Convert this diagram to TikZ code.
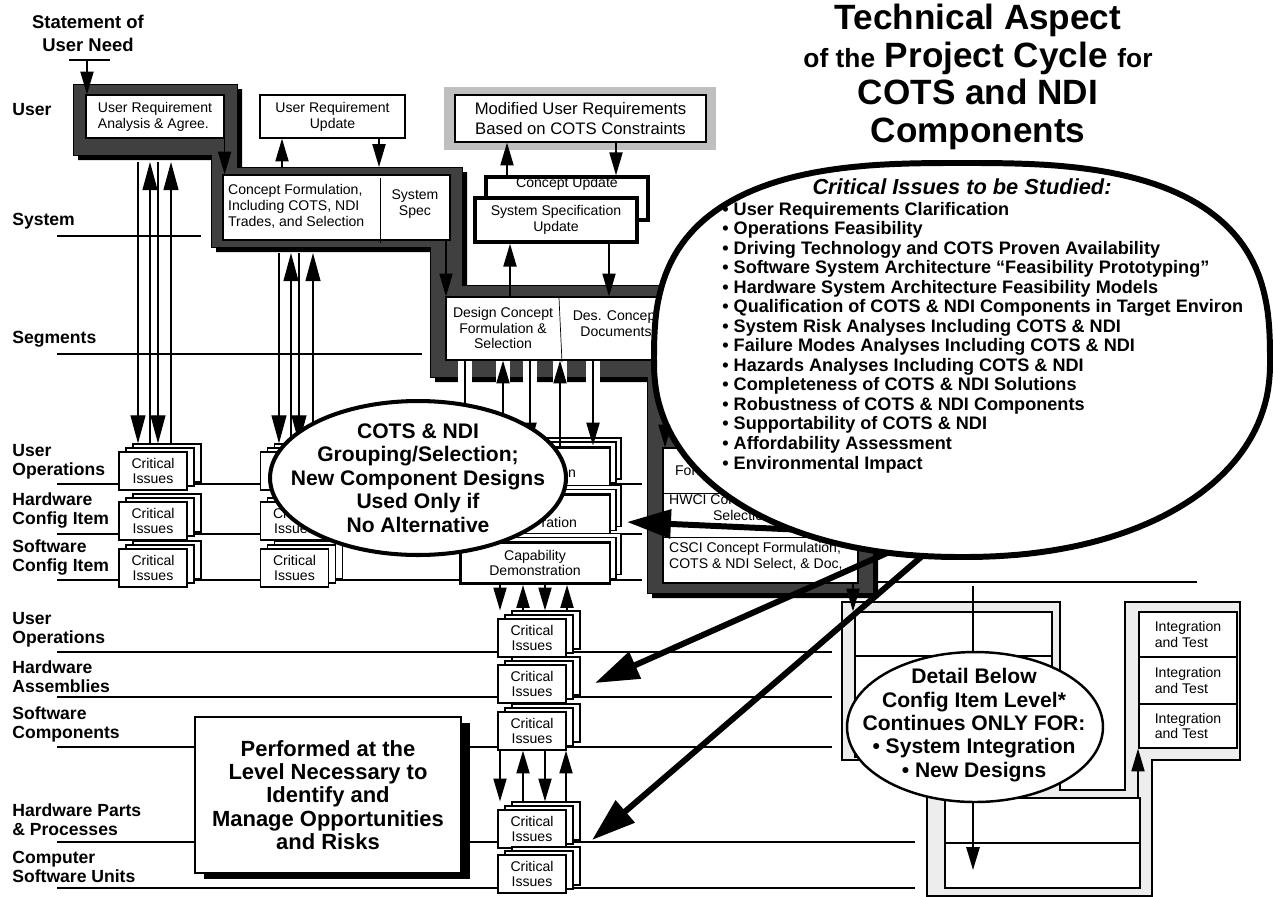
\documentclass[tikz,border=0pt]{standalone}
\usepackage{fontspec}
\setmainfont{Liberation Sans}
\usetikzlibrary{arrows.meta,positioning,shapes.geometric}

\definecolor{bandgray}{gray}{0.25}
\definecolor{palegray}{gray}{0.93}
\definecolor{framegray}{gray}{0.75}

\tikzset{
  level/.style={font=\fontsize{10}{11}\selectfont\bfseries, align=left, anchor=west, inner sep=0pt},
  levelline/.style={line width=0.9pt},
  boxtext/.style={font=\fontsize{8}{9}\selectfont, align=center, inner sep=1pt},
  box/.style 2 args={draw, fill=white, line width=0.7pt, inner sep=0pt,
    minimum width=#1*0.2mm, minimum height=#2*0.2mm, boxtext},
  crit/.style={box={68}{38}},
  midbox/.style={box={150}{41}},
  dropshadow/.style={preaction={fill=black, transform canvas={xshift=1mm, yshift=-1mm}}},
  arr/.style={-{Triangle[length=13pt, width=7.5pt]}, line width=0.8pt},
  longarr/.style={-{Triangle[length=16pt, width=8.5pt]}, line width=0.8pt},
  fatarr/.style={-{Triangle[length=25pt, width=16pt]}, line width=3.4pt},
  bubble/.style={ellipse, draw, fill=white, inner sep=0pt},
  bubbletext/.style={font=\fontsize{12}{13.3}\selectfont\bfseries, align=center, inner sep=0pt},
}

\begin{document}
\begin{tikzpicture}[x=0.02cm, y=-0.02cm]
\useasboundingbox (0,0) rectangle (1273,896);

% level lines
\foreach \y/\xe in {236/201, 354/422, 484/642, 534/642, 580/642, 652/832, 697/832, 747/832, 842/915, 888/915}
  \draw[levelline] (57,\y) -- (\xe,\y);
\draw[line width=1.1pt] (870,582) -- (1197,582);

% level names
\node[level, anchor=center, align=center, font=\fontsize{10.5}{13}\selectfont\bfseries] (need) at (88,33) {Statement of\\User Need};
\node[level] (lvuser) at (12,110) {User};
\node[level] (lvsys) at (12,221) {System};
\node[level] (lvseg) at (12,339) {Segments};
\node[level] (lvuo) at (12,462) {User\\Operations};
\node[level] (lvhci) at (12,510.5) {Hardware\\Config Item};
\node[level] (lvsci) at (12,557.5) {Software\\Config Item};
\node[level] (lvuo2) at (12,630) {User\\Operations};
\node[level] (lvha) at (12,677) {Hardware\\Assemblies};
\node[level] (lvsc) at (12,724.5) {Software\\Components};
\node[level] (lvhpp) at (12,820) {Hardware Parts\\\& Processes};
\node[level] (lvcsu) at (12,867) {Computer\\Software Units};

\coordinate (needbar) at (87,60);
\draw[levelline] (69,60) -- (110,60);

% dark staircase
\path[fill=bandgray, draw=black, line width=0.4pt, dropshadow]
  (73,84) -- (237,84) -- (237,167) -- (462,167) -- (462,285) -- (690,285) -- (690,377)
  -- (663,377) -- (663,436) -- (873,436) -- (873,593) -- (647,593) -- (647,377)
  -- (430,377) -- (430,247) -- (211,247) -- (211,155) -- (73,155) -- cycle;
\foreach \x in {465,503,530,560,593}
  \fill[white] (\x-7,361) rectangle (\x+7,383);

\node[box={138}{43}, align=left] (ura) at (155,116.5) {User Requirement\\Analysis \& Agree.};
\node[box={227}{65}] (cf) at (336.5,207.5) {};
\draw (380,178) -- (380,243);
\node[boxtext, align=left, anchor=west] (cftext) at (226,206) {Concept Formulation,\\Including COTS, NDI\\Trades, and Selection};
\node[boxtext] (spec) at (415,204) {System\\Spec};
\node[box={230}{63}] (dc) at (561,328.5) {};
\draw (559,298) -- (562,362);
\node[boxtext] (dctext) at (503,328) {Design Concept\\Formulation \&\\Selection};
\node[boxtext] (docs) at (616,324) {Des. Concept\\Documents};
\node[box={195}{135}] (hwsw) at (760.5,515.5) {};
\draw (hwsw.west |- 0,493) -- (hwsw.east |- 0,493);
\draw (hwsw.west |- 0,537) -- (hwsw.east |- 0,537);
\node[boxtext, anchor=west] at (673,471) {For};
\node[boxtext, anchor=west] at (667,501) {HWCI Concept};
\node[boxtext, anchor=west] at (711,515) {Selection};
\node[boxtext, anchor=west, align=left] at (667,556) {CSCI Concept Formulation,\\COTS \& NDI Select, \& Doc,};

% update boxes
\fill[framegray] (444,87) rectangle (716,150);
\node[box={251}{47}, font=\fontsize{9.5}{11.3}\selectfont] (mur) at (580.5,118.5) {Modified User Requirements\\Based on COTS Constraints};
\node[box={145}{43}] (uru) at (332.5,116.5) {User Requirement\\Update};
\node[box={162}{43}, line width=2pt] (cu) at (567,198.5) {};
\node[boxtext, anchor=north] at (cu.north) {Concept Update};
\node[box={162}{44}, line width=2pt] (ssu) at (556,220) {System Specification\\Update};

% critical issues stacks
\foreach \n/\x/\y in {c11/153/471, c12/153/521, c13/153/568, c21/294.5/471, c22/294.5/521, c23/294.5/568,
                      c41/532/638, c42/532/684, c43/532/731, c44/532/829, c45/532/874}{
  \node[crit] (back\n) at (\x,\y) [xshift=2.8mm, yshift=1.6mm] {};
  \node[crit] at (\x,\y) [xshift=1.4mm, yshift=0.8mm] {};
  \node[crit] (\n) at (\x,\y) {Critical\\Issues};
}
\foreach \n/\y in {m1/467.5, m2/515, m3/563}{
  \node[midbox] (back\n) at (535,\y) [xshift=2.2mm, yshift=1.8mm] {};
  \node[midbox] at (535,\y) [xshift=1.2mm, yshift=1mm] {};
  \node[midbox, line width=1.7pt] (\n) at (535,\y) {};
}
\node[boxtext, anchor=east] at (578,474) {on};
\node[boxtext, anchor=east] at (579,522) {ration};
\node[boxtext] at (m3) {Capability\\Demonstration};

% light staircase
\filldraw[fill=palegray, line width=0.7pt] (842,602) -- (1060,602) -- (1060,790) -- (1125,790) -- (1125,602)
  -- (1240,602) -- (1240,760) -- (1152,760) -- (1152,896) -- (927,896) -- (927,760) -- (842,760) -- cycle;
\node[box={197}{145}] (ltop) at (953.5,684.5) {};
\draw[levelline] (ltop.west |- 0,656) -- (ltop.east |- 0,656);
\node[box={195}{90}] (lbot) at (1042.5,843) {};
\draw[levelline] (lbot.west) -- (lbot.east);
\foreach \n/\y/\h in {it1/634.5/45, it2/680.5/47, it3/726/44}
  \node[box={98}{\h}, align=left] (\n) at (1188,\y) {Integration\\and Test};

% connectors
\coordinate (bandtop) at (0,167);
\coordinate (uraband) at (0,162);
\coordinate (cfband) at (0,253);
\draw[arr] (needbar) -- (needbar |- ura.north);
\draw[arr] (ura.south east) -- (ura.south east |- cf.north);
\draw[arr] (282,0 |- bandtop) -- (282,0 |- uru.south);
\draw[arr] (379,0 |- uru.south) -- (379,0 |- bandtop);
\draw[arr] (cf.south -| 446,0) -- (446,0 |- dc.north);
\draw[arr] (507,0 |- cu.north) -- (507,0 |- mur.south);
\draw[arr] (616,0 |- mur.south) -- (616,0 |- cu.north);
\draw[arr] (510,0 |- dc.north) -- (510,0 |- ssu.south);
\draw[arr] (609,0 |- ssu.south) -- (609,0 |- dc.north);
\draw[arr] (665,0 |- dc.south) -- (665,0 |- hwsw.north);
\draw[arr] (853,0 |- hwsw.south) -- (853,0 |- ltop.north);

\foreach \x in {138,158} \draw[longarr] (\x,0 |- uraband) -- (\x,0 |- backc11.north);
\foreach \x in {150,171} \draw[longarr] (\x,0 |- backc11.north) -- (\x,0 |- uraband);
\foreach \x in {279,299} \draw[longarr] (\x,0 |- cfband) -- (\x,0 |- backc21.north);
\foreach \x in {291,313} \draw[longarr] (\x,0 |- backc21.north) -- (\x,0 |- cfband);
\foreach \x in {465,530,593} \draw[arr] (\x,0 |- dc.south) -- (\x,0 |- m1.north);
\foreach \x in {503,560} \draw[arr] (\x,0 |- m1.north) -- (\x,0 |- dc.south);
\foreach \x in {500,545} \draw[arr] (\x,0 |- m3.south) -- (\x,0 |- backc41.north);
\foreach \x in {523,567} \draw[arr] (\x,0 |- backc41.north) -- (\x,0 |- m3.south);
\foreach \x in {500,545} \draw[arr] (\x,0 |- c43.south) -- (\x,0 |- backc44.north);
\foreach \x in {523,566} \draw[arr] (\x,0 |- backc44.north) -- (\x,0 |- c43.south);

\coordinate (cidrop) at (973,586);
\coordinate (ciland) at (973,870);
\draw[arr, line width=1.2pt] (cidrop) -- (ciland);
\draw[arr] (1138,0 |- lbot.north) -- (1138,0 |- it3.south);

% fat arrows out of the issues bubble
\coordinate (src1) at (850,532); \coordinate (hit1) at (627,522);
\coordinate (src2) at (905,545); \coordinate (hit2) at (595,683);
\coordinate (src3) at (935,545); \coordinate (hit3) at (592,840);
\foreach \i in {1,2,3} \draw[fatarr] (src\i) -- (hit\i);

% bubbles
\coordinate (studyell) at (962,363);
\draw[line width=3.4pt, fill=white]
  plot[domain=180.5:359.5, samples=90, variable=\t]
    ({962+308*ifthenelse(cos(\t)<0,-1,1)*abs(cos(\t))^(0.714)}, {363-200*abs(sin(\t))^(0.714)})
  -- plot[domain=0.5:179.5, samples=90, variable=\t]
    ({962+308*ifthenelse(cos(\t)<0,-1,1)*abs(cos(\t))^(0.93)}, {363+194*abs(sin(\t))^(0.93)})
  -- cycle;
\node[font=\fontsize{12.4}{14}\selectfont\bfseries\itshape] (studyhead) at (962,187) {Critical Issues to be Studied:};
\node[font=\fontsize{10.3}{11.1}\selectfont\bfseries, align=left, anchor=north west, inner sep=0pt] (studylist) at (722,202)
  {• User Requirements Clarification\\
   • Operations Feasibility\\
   • Driving Technology and COTS Proven Availability\\
   • Software System Architecture “Feasibility Prototyping”\\
   • Hardware System Architecture Feasibility Models\\
   • Qualification of COTS \& NDI Components in Target Environ\\
   • System Risk Analyses Including COTS \& NDI\\
   • Failure Modes Analyses Including COTS \& NDI\\
   • Hazards Analyses Including COTS \& NDI\\
   • Completeness of COTS \& NDI Solutions\\
   • Robustness of COTS \& NDI Components\\
   • Supportability of COTS \& NDI\\
   • Affordability Assessment\\
   • Environmental Impact};

\node[bubble, line width=2.3pt, minimum width=296*0.2mm, minimum height=154*0.2mm] (cotsell) at (418,478) {};
\node[bubbletext] (cotstext) at (cotsell) {COTS \& NDI\\Grouping/Selection;\\New Component Designs\\Used Only if\\No Alternative};

\node[bubble, line width=1.4pt, minimum width=256*0.2mm, minimum height=150*0.2mm] (detailell) at (975,727) {};
\node[bubbletext] (detailtext) at (974,725) {Detail Below\\Config Item Level*\\Continues ONLY FOR:\\• System Integration\\• New Designs};

\node[box={266}{156}, line width=0.9pt, font=\fontsize{12.5}{13.3}\selectfont\bfseries,
      preaction={fill=black, transform canvas={xshift=1.8mm, yshift=-1.2mm}}] (perf) at (328,795)
  {Performed at the\\Level Necessary to\\Identify and\\Manage Opportunities\\and Risks};

\node[font=\fontsize{20}{21.4}\selectfont\bfseries, align=center] (title) at (978,77)
  {Technical Aspect\\{\fontsize{15}{16}\selectfont of the} Project Cycle {\fontsize{15}{16}\selectfont for}\\COTS and NDI\\Components};
\end{tikzpicture}
\end{document}
